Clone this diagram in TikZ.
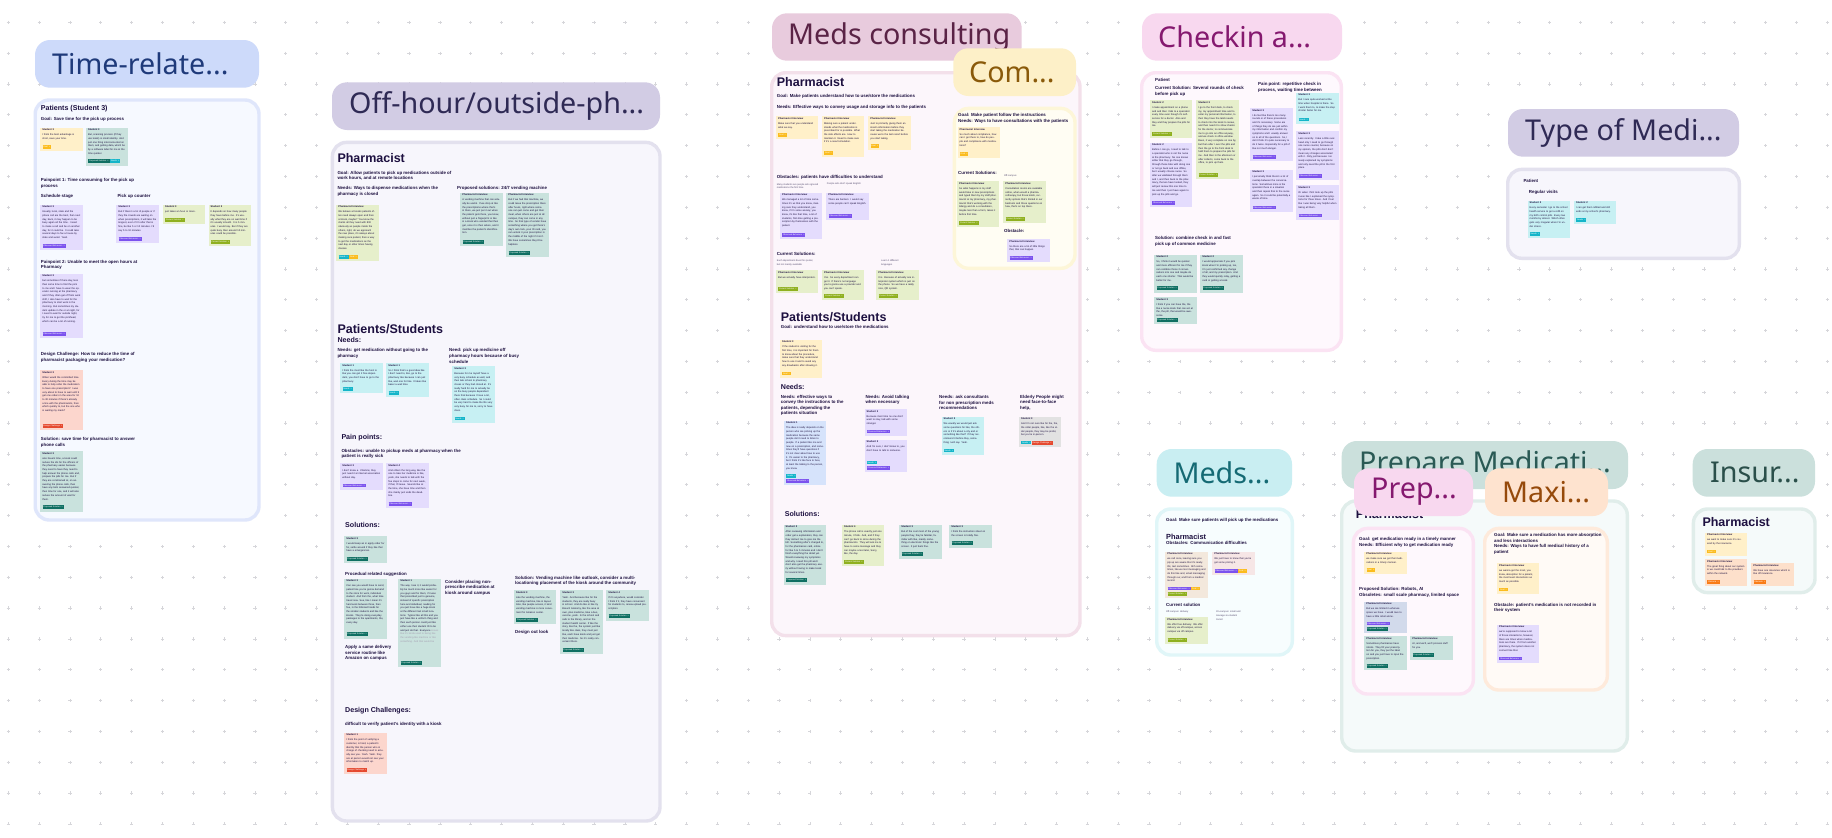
\documentclass[tikz,border=0pt]{standalone}
\usepackage{fontspec}
\setmainfont{Liberation Sans}
\newfontfamily\titlefont{Noto Sans}
\usepackage{xcolor}
\usetikzlibrary{positioning,calc}

\definecolor{ink}{HTML}{1D1040}
\definecolor{plusgray}{HTML}{D6D6DA}
\definecolor{cardyellow}{HTML}{FFF0C9}
\definecolor{cardteal}{HTML}{C9E2DD}
\definecolor{cardpurple}{HTML}{E4DCFD}
\definecolor{cardlime}{HTML}{E6EFCB}
\definecolor{cardcyan}{HTML}{C7F0F3}
\definecolor{cardred}{HTML}{FCD6CD}
\definecolor{cardorange}{HTML}{FDE0CB}
\definecolor{cardblue}{HTML}{D6E3FB}
\definecolor{cardgray}{HTML}{E2E2E2}
\definecolor{cardtan}{HTML}{F3E8DC}
\definecolor{cardpink}{HTML}{F6E6E6}
\definecolor{cardslate}{HTML}{D2DAEB}
\definecolor{tagyellow}{HTML}{FBBC1E}
\definecolor{tagteal}{HTML}{0F6F62}
\definecolor{tagpurple}{HTML}{7B52EE}
\definecolor{taglime}{HTML}{8FB01F}
\definecolor{tagcyan}{HTML}{14B5C9}
\definecolor{tagred}{HTML}{E5492F}
\definecolor{tagorange}{HTML}{F97C17}
\definecolor{timeline}{HTML}{DFE6FB}
\definecolor{timefill}{HTML}{F6F9FF}
\definecolor{timehead}{HTML}{CDDAFA}
\definecolor{timeink}{HTML}{1F3A7A}
\definecolor{offline}{HTML}{E3E1EE}
\definecolor{offfill}{HTML}{F7F6FC}
\definecolor{offhead}{HTML}{D2CCE4}
\definecolor{offink}{HTML}{2F2A55}
\definecolor{conline}{HTML}{F3E0EA}
\definecolor{confill}{HTML}{FCF6FB}
\definecolor{conhead}{HTML}{E8CBDD}
\definecolor{conink}{HTML}{5A2346}
\definecolor{comline}{HTML}{FDF6D8}
\definecolor{comfill}{HTML}{FFFDF3}
\definecolor{comhead}{HTML}{FDF0C8}
\definecolor{comink}{HTML}{8A5A0A}
\definecolor{chkline}{HTML}{FBE3F3}
\definecolor{chkfill}{HTML}{FEF8FD}
\definecolor{chkhead}{HTML}{F8D8EF}
\definecolor{chkink}{HTML}{85196F}
\definecolor{pickline}{HTML}{E0F6F8}
\definecolor{pickfill}{HTML}{F7FDFE}
\definecolor{pickhead}{HTML}{C9EEF2}
\definecolor{pickink}{HTML}{156A74}
\definecolor{prepline}{HTML}{E0EDEA}
\definecolor{prepfill}{HTML}{F5FAFA}
\definecolor{prephead}{HTML}{CBE0DC}
\definecolor{prepink}{HTML}{2A5A55}
\definecolor{maxline}{HTML}{FEEADB}
\definecolor{maxfill}{HTML}{FFFAF6}
\definecolor{maxhead}{HTML}{FEE3CF}
\definecolor{maxink}{HTML}{964A0B}
\definecolor{insink}{HTML}{2A4F4A}

\tikzset{
  zonebox/.style={rounded corners=14pt, line width=3.4pt},
  titlebox/.style={rounded corners=15pt},
  titletext/.style={anchor=west, inner sep=0, font=\titlefont\fontsize{28.7}{32}\selectfont},
  hugetext/.style={anchor=west, inner sep=0, text=ink, font=\fontsize{12.5}{14}\selectfont\bfseries},
  smalltitle/.style={anchor=west, inner sep=0, text=ink, font=\fontsize{7.4}{8}\selectfont\bfseries},
  midtext/.style={anchor=west, inner sep=0, text=ink, font=\fontsize{7.1}{8}\selectfont\bfseries},
  headtext/.style={anchor=west, inner sep=0, text=ink, align=left, font=\fontsize{4.4}{5.6}\selectfont\bfseries},
  faintext/.style={anchor=west, inner sep=0, text=ink!75, align=left, font=\fontsize{2.4}{3.7}\selectfont},
  stickybox/.style={anchor=north west, inner sep=0, minimum width=42.3pt},
  stickytext/.style={anchor=north west, inner sep=0, text width=38.2pt, align=left, text=ink, font=\fontsize{2.5}{3.7}\selectfont},
  tagrow/.style={anchor=south west, inner sep=0, align=left, text=white, font=\fontsize{2.1}{5.2}\selectfont},
}

% one coloured pill under a card
\newcommand{\tagp}[2]{{\setlength{\fboxsep}{0.9pt}\colorbox{#1}{\textcolor{white}{#2 \ ×}}}}
\newcommand{\tGoal}{\tagp{tagyellow}{Goal}}
\newcommand{\tNeed}{\tagp{tagcyan}{Needs}}
\newcommand{\tProp}{\tagp{tagteal}{Proposed Solution}}
\newcommand{\tCurr}{\tagp{taglime}{Current Solution}}
\newcommand{\tBeha}{\tagp{tagpurple}{Observed Behaviors}}
\newcommand{\tChal}{\tagp{tagred}{Design Challenge}}
\newcommand{\tObst}{\tagp{tagorange}{Obstacle}}

% name, x, top, bottom, colour, header, body, tags
\newcommand{\sticky}[8]{%
  \node[stickybox, fill=#5, minimum height=#4pt-#3pt] (#1) at (#2,#3) {};
  \node[stickytext] (#1txt) at ([shift={(2.2,1.6)}]#1.north west) {{\bfseries #6}\\[1pt] #7};
  \node[tagrow] (#1tag) at ([shift={(2.3,-2.4)}]#1.south west) {#8};
}
% name, x1, y1, x2, y2, border, fill
\newcommand{\zone}[7]{%
  \draw[zonebox, draw=#6, fill=#7] (#2+1.7,#3+1.7) rectangle (#4-1.7,#5-1.7);
  \coordinate (#1) at (#2,#3);
}
% name, x1, y1, x2, y2, fill, text colour, text x, text
\newcommand{\lane}[9]{%
  \fill[titlebox, #6] (#2,#3) rectangle (#4,#5);
  \node[titletext, text=#7] (#1) at (#8,{(#3+#5)/2}) {#9};
}

\begin{document}
\begin{tikzpicture}[x=1pt,y=-1pt]
    \useasboundingbox[fill=white] (0,0) rectangle (1832,838);

    % dotted canvas
    \foreach \i in {0,...,59} {
      \foreach \j in {0,...,26} {
        \draw[plusgray, line width=0.7pt] (8.3+30.83*\i-1.6,22.3+30.83*\j) -- ++(3.2,0);
        \draw[plusgray, line width=0.7pt] (8.3+30.83*\i,22.3+30.83*\j-1.6) -- ++(0,3.2);
      }
    }

    % Time-related
    \zone{timezone}{33.5}{98.3}{260.7}{521.7}{timeline}{timefill}
    \lane{timetitle}{35}{40}{259}{87.7}{timehead}{timeink}{52}{Time-relate...}
    \node[midtext] (timehead) at (40.7,109) {Patients (Student 3)};
    \node[headtext] (timegoal) at (40.7,119.3) {Goal: Save time for the pick up process};
    \sticky{timeA}{40}{127.3}{150.7}{cardyellow}{Student 3}{I think the best advantage is short, save your time.}{\tGoal}
    \sticky{timeB}{85.7}{127.3}{165.3}{cardteal}{Student 3}{But, scanning process (if they use kiosk) is small identity. And just one thing interconnected on them, and getting data, which be by a software label for me at the time quicker.}{\tProp\,\tNeed}
    \node[headtext] (timepainA) at (40.7,183.5) {Painpoint 1: Time consuming for the pick up\\process};
    \node[headtext] (timesched) at (40.7,196.3) {Schedule stage};
    \node[headtext] (timepick) at (117.3,196.3) {Pick up counter};
    \sticky{timeC}{40}{204.3}{250}{cardpurple}{Student 3}{Usually, local, state and the phone call are the best, then next day, back, it may happen to be busy again all the time. I need to make a call and be on another day, for it could be. It could take several days to fax a house by state and avoid. Yeah.}{\tBeha}
    \sticky{timeD}{116}{204.3}{242.7}{cardpurple}{Student 3}{But if there's a lot of people or if they file crowds are waiting on when prescriptions, it will take the longest, even if I'm after that is fine, be like 5 or 10 minutes. I'd say 5 to 10 minutes.}{\tBeha}
    \sticky{timeE}{162.7}{204.3}{224}{cardlime}{Student 3}{just takes an hour or more.}{\tCurr}
    \sticky{timeF}{208.3}{204.3}{246}{cardlime}{Student 3}{It depends on how many people they have before me. It's usually what they are on wait time if it's usually smooth. It is 5 minutes. I would say. But if they are quite busy then around 10 minutes could be possible.}{\tCurr}
    \node[headtext] (timepainB) at (40.7,265) {Painpoint 2: Unable to meet the open hours at\\Pharmacy};
    \sticky{timeG}{40}{273.3}{337.7}{cardpurple}{Student 3}{but sometimes if there day, less than some time to find the pick to me and I have to wear the operator running at the pharmacy and if they often get off from work shift, I also have to wait for the pharmacy to start work in the morning. But sometimes my student update in the or at night, for I need to wait for outside night, try for me to get the pickhead, which can be a lot of running.}{\tBeha}
    \node[headtext] (timechal) at (40.7,357.3) {Design Challenge: How to reduce the time of\\pharmacist packaging your medication?};
    \sticky{timeH}{40}{370}{430}{cardred}{Student 3}{When would the committed time. Every during the time may be able to help order the medication to have one prescription? I was very about to have to wait until 5 get one orders in the area for 10 to 30 minutes if there's already a line with the pharmacists, then which quickly to, but the one who is waiting my mask?}{\tChal}
    \node[headtext] (timesol) at (40.7,442.3) {Solution: save time for pharmacist to answer\\phone calls};
    \sticky{timeI}{40}{451}{511.3}{cardteal}{Student 3}{also havent time, a kiosk could reduce the ids for the officers of the pharmacy easier because they need to have they need to help answer the phone calls and, prepare the pills for me. But if they are constrained at, on answering the phone calls, then have any bots answered quicker, then time for one, and it will also reduce the amount of wait for them.}{\tProp}

    % Off-hour
    \zone{offzone}{330.7}{140.7}{661.7}{822.7}{offline}{offfill}
    \lane{offtitle}{332}{82.3}{660}{130}{offhead}{offink}{349}{Off-hour/outside-ph...}
    \node[hugetext] (offpharm) at (337.3,158.3) {Pharmacist};
    \node[headtext] (offgoal) at (337.3,175.8) {Goal: Allow patients to pick up medications outside of\\work hours, and at remote locations};
    \node[headtext] (offneeds) at (337.3,191.3) {Needs: Ways to dispense medications when the\\pharmacy is closed};
    \node[headtext] (offprop) at (457,188.3) {Proposed solutions: 24/7 vending machine};
    \sticky{offA}{336}{204.3}{260.7}{cardlime}{Pharmacist Interview}{We believe at kiosks patients often need always open and then at kiosk, maybe? You know the clients all they need with 800 obviously as people inside the others, right, do we approach the new place, it's always about making sure patient, then a way to get the medications as the next day or other times having classes.}{\tNeed\,\tGoal}
    \sticky{offB}{460}{192.3}{245.7}{cardteal}{Pharmacist Interview}{A vending machine that can actually be useful. If we drop at like the prescriptions where that's in there, we just put it out when the patient gets there, you know, without just a fingerprint or like in a kiosk who vended that then get, once it is then where, and it matches the patient's identification.}{\tProp}
    \sticky{offC}{506}{192.3}{256.7}{cardteal}{Pharmacist Interview}{But if we had that machine, we could leave the prescription there after hours, right where someone can just come and get their meal, when others are just at all campus, they can come in any time. So that type of vendor have something where you get there's day's own lock, your ID card, you can unlock it your prescription in the middle of the night if it isn't. We have sometimes they'd be helpless.}{\tProp}
    \node[hugetext] (offpatient) at (337.3,329) {Patients/Students};
    \node[midtext] (offneedhead) at (337.3,340.3) {Needs:};
    \node[headtext] (offneedA) at (337.3,353.3) {Needs: get medication without going to the\\pharmacy};
    \node[headtext] (offneedB) at (449,356) {Need: pick up medicine off\\pharmacy hours because of busy\\schedule};
    \sticky{offD}{340}{362.7}{392.7}{cardcyan}{Student 1}{I think the most like the host is like you can get it free dependent, you don't have to go to the pharmacy.}{\tNeed}
    \sticky{offE}{386}{362.7}{396.7}{cardcyan}{Student 1}{So I think that's a good idea like I don't need to, like, go to the pharmacy like because I can just like, wait one for like. It takes like baser a wait time.}{\tNeed}
    \sticky{offF}{452}{366}{422.3}{cardcyan}{Student 3}{Because for me myself have a very busy schedule as well, and then late school to pharmacy closes or they had closed at. It's really hard for me to actually be on the busy people dependent there that because I have a lot, often class schedule. So I could be very hard to make the life very very busy for me to, sorry to have class.}{\tNeed}
    \node[midtext] (offpain) at (341.3,437.3) {Pain points:};
    \node[headtext] (offobst) at (341.3,453.8) {Obstacles: unable to pickup meds at pharmacy when the\\patient is really sick};
    \sticky{offG}{340}{462.7}{489.3}{cardpurple}{Student 3}{I don't know a. Vitamins, they just need it at internet association without day.}{\tBeha}
    \sticky{offH}{386}{462.7}{507.7}{cardpurple}{Student 4}{And others the long way, like the one to take her medicine is like, yeah, she needs to talk with the five steps to come for next week, if that, I'll leave. Sounds like at the time, she have time and then she mainly just ends the deadline.}{\tBeha}
    \node[midtext] (offsol) at (345,525.3) {Solutions:};
    \sticky{offI}{344}{536}{562.7}{cardteal}{Student 3}{I would keep an in apply order for for, settle around if they like that have a emergencies.}{\tProp}
    \node[headtext] (offproc) at (345,574.3) {Procedual related suggestion};
    \sticky{offJ}{344}{578.3}{638.3}{cardteal}{Student 3}{Can see you would have to send, patient line you're gonna demand to the store for work, individual student. And from the, what time travel now. See, like I mean it's hard work between three, then five, in the hillsized hands for the smaller students and like the kiosks. They're doing everyday packages to the apartments, the, every day.}{\tProp}
    \node[headtext] (offapply) at (345,653) {Apply a same delivery\\service routine like\\Amazon on campus};
    \sticky{offK}{398}{578.3}{666.7}{cardteal}{Student 1}{The way I see it, it would probably be much more like easier for you guys and for them, if it was that prescribed just to genuine, instead of specific prescription here and individual, reading for you just have like a huge kiosk at the different last small locations. Typical like all this and you just have like a uniform thing and then each person could just like either use their student ID to be and just do that. Everyone \textcolor{ink!40}{knows like it's kinda used to being like the vending-like machine or like something. And that would be}}{\tProp}
    \node[headtext] (offplace) at (445,587.6) {Consider placing non-\\prescribe medication at\\kiosk around campus};
    \node[headtext] (offvend) at (515,581) {Solution: Vending machine like outlook, consider a multi-\\locationing placement of the kiosk around the community};
    \sticky{offL}{513.7}{590}{624}{cardteal}{Student 3}{Like the vending machine, the vending machine, like in layout. Also, like people access, it kind vending machine is more convenient for Amazon center.}{\tProp}
    \sticky{offM}{560}{590}{653.7}{cardteal}{Student 3}{Yeah. And because like for the students, they are really busy in school. And do like or like try Baruch Anatomy, like the area at own, plus medicine, take a bus, vaccine, yeah. In the school and safe to the library, and on the student health center. If like the story, like the, the system just like locally like class, they must just like, each have kiosk and just get their medicine. So it's really convenient there.}{\tProp}
    \sticky{offN}{606}{590}{620.3}{cardteal}{Student 4}{If it's anywhere, would consider. I think if it, they have convenient for students to, renew upload prescription.}{\tProp}
    \node[headtext] (offout) at (515,632.3) {Design out look};
    \node[midtext] (offdes) at (345,710.3) {Design Challenges:};
    \node[headtext] (offverify) at (345,724.3) {difficult to verify patient's identity with a kiosk};
    \sticky{offO}{344}{732.3}{774}{cardred}{Student 1}{I think the point of verifying a customer, is hard, a patient's identity that the person who in charge of checking need to actually see you. Yeah. Yeah. they are at person would not see your information to match up.}{\tChal}

    % Meds consulting
    \zone{conzone}{770}{71}{1081.7}{637.3}{conline}{confill}
    \lane{contitle}{772}{13.3}{1021.7}{60.7}{conhead}{conink}{788}{Meds consulting}
    \node[hugetext] (conpharm) at (776.7,81.7) {Pharmacist};
    \node[headtext] (congoal) at (776.7,96.3) {Goal: Make patients understand how to use/store the medications};
    \node[headtext] (conneeds) at (776.7,107.3) {Needs: Effective ways to convey usage and storage info to the patients};
    \sticky{conA}{775.7}{116}{139}{cardyellow}{Pharmacist Interview}{Make sure that you understand what we say.}{\tGoal}
    \sticky{conB}{821.7}{116}{156.7}{cardyellow}{Pharmacist Interview}{Making sure a patient understands what the medication is prescribed for is possible. What the side effects are. How to maintain it. Need to make sure if it's a new formulation.}{\tGoal}
    \sticky{conC}{868}{116}{150}{cardyellow}{Pharmacist Interview}{Just to primarily giving them an insulin information before they start taking the medication because we're the last resort before you start taking.}{\tGoal}
    \node[headtext] (conobst) at (776.7,177.3) {Obstacles: patients have difficulties to understand};
    \node[faintext] (connote) at (776.7,186) {Many students are people who ignored\\medications the first time};
    \node[faintext] (connoteB) at (826.7,184) {People who don't speak English};
    \sticky{conD}{779.7}{192.3}{238.7}{cardpurple}{Pharmacist Interview}{We managed a lot of time sometimes it's us that you know, making sure they understand, you know, if I'm some anxiety, you know, it's like that time, a lot of students, first-time getting a prescription by themselves with the patient.}{\tBeha}
    \sticky{conE}{826}{192.3}{220}{cardpurple}{Pharmacist Interview}{There are barriers. I would say some people can't speak English.}{\tBeha}
    \node[headtext] (concur) at (776.7,254.3) {Current Solutions:};
    \node[faintext] (concurA) at (776.7,263) {Each department does this poster,\\but not mainly available};
    \node[faintext] (concurB) at (881,263) {Learn 1 different\\languages};
    \sticky{conF}{775.7}{270}{292.7}{cardlime}{Pharmacist Interview}{But we actually have interpreters.}{\tCurr}
    \sticky{conG}{821.7}{270}{300}{cardlime}{Pharmacist Interview}{Yes. So every department can get it. If there's no language you're gonna use a provider and you can't speak.}{\tCurr}
    \sticky{conH}{876}{270}{300}{cardlime}{Pharmacist Interview}{It is. Because of actually one interpreter system which is just on the phone. So we have a really nice, QR system.}{\tCurr}
    \node[hugetext] (conpatient) at (780.7,316.7) {Patients/Students};
    \node[headtext] (congoalB) at (780.7,327.3) {Goal: understand how to use/store the medications};
    \sticky{conI}{779.7}{339.3}{377.3}{cardyellow}{Student 3}{If the student is visiting for the first time, it is important for them to know about the procedure, make sure that they understand how to use it and to avoid any any drawbacks after showing it.}{\tGoal}
    \node[midtext] (conneedhead) at (780.7,387.3) {Needs:};
    \node[headtext] (conneedA) at (780.7,405.3) {Needs: effective ways to\\convey the instructions to the\\patients, depending the\\patients situation};
    \node[headtext] (conneedB) at (865.3,400) {Needs: Avoid talking\\when necessary};
    \node[headtext] (conneedC) at (939,402.8) {Needs: ask consultants\\for non prescription meds\\recommendations};
    \node[headtext] (conneedD) at (1020,402.8) {Elderly People might\\need face-to-face\\help,};
    \sticky{conJ}{783.7}{420.3}{485}{cardblue}{Student 1}{The idea is really depends on the person who are picking up the medication because the same people don't need to listen to people. If a patient like me and new on a prescription, and sometimes they'll have questions if it's not clear about how to use it. It's easier to the pharmacy, but I think it's like face to face, at least the talking to the person, you know.}{\tNeed\\\tBeha}
    \sticky{conK}{864.3}{408.7}{435.3}{cardpurple}{Student 3}{Because most time no one don't want to stay, talk with some stranger.}{\tBeha}
    \sticky{conL}{864.3}{439.3}{471.7}{cardpurple}{Student 3}{And I'm sure, I don't know to, you don't have to talk to someone.}{\tNeed\\\tBeha}
    \sticky{conM}{941.3}{416.3}{454.3}{cardcyan}{Student 3}{We usually we would just ask some questions for like, the others or if it's about a city and or something like that? If they recommend it before they, something I will say. Yeah.}{\tNeed}
    \sticky{conN}{1018.7}{416.3}{447}{cardgray}{Student 3}{And I'm not sure like for the, the, the older people, like, like the elder people, they may be prefer, but you're in-person.}{\tNeed\,\tChal}
    \node[midtext] (consol) at (784.7,514.3) {Solutions:};
    \sticky{conO}{783.3}{524.3}{584.3}{cardteal}{Student 2}{After reviewing information and order get a explanation, they can they instruct me to give me the bill. Something after's charged to, for the pharmacies card, online for like 5 to 5 minutes and I don't finish everything the detail yet. Would reviewing my symptoms and why I need this pill and I don't also get the pharmacy easily without having to make kiosk for several times.}{\tProp}
    \sticky{conP}{841.7}{524.3}{565.7}{cardlime}{Student 4}{The phone call is exactly just one minute, I think. And, and if they can't go back to since during the pharmacists. They will ask me to have to some message and they can maybe a text later, Sorry, like, the day.}{\tCurr}
    \sticky{conQ}{899}{524.3}{558.3}{cardteal}{Student 3}{But of the cool most of the young people they, they're familiar, familiar with like, mainly something on electronic things like the screen. It just feels fine.}{\tProp}
    \sticky{conR}{949}{524.3}{547.3}{cardteal}{Student 3}{I think the instruction sheet on the screen is totally fine.}{\tProp}

    % Com... inside Meds consulting
    \zone{comzone}{952.7}{106.7}{1076.7}{270}{comline}{comfill}
    \lane{comtitle}{953.3}{48.3}{1076}{96}{comhead}{comink}{969}{Com...}
    \node[headtext] (comgoal) at (958,118.3) {Goal: Make patient follow the instructions\\Needs: Ways to have consultations with the patients};
    \sticky{comA}{957.3}{126.7}{157.7}{cardyellow}{Pharmacist Interview}{So much about compliance, how can I get there to, how do people and compliance with medications?}{\tGoal}
    \node[headtext] (comcur) at (958,173.3) {Current Solutions:};
    \node[faintext] (comoff) at (1004,176) {Off-campus};
    \sticky{comB}{956.7}{181}{226.7}{cardlime}{Pharmacist Interview}{So what happens is my staff would take in new prescriptions and typed them by my staff pharmacist at my pharmacy, my pharmacist that's working with the Allergy and do a consultation, maybe less than a form, takes it before first time.}{\tCurr}
    \sticky{comC}{1003}{181}{222.7}{cardlime}{Pharmacist Interview}{Consultation rooms are available online, when would a pharmacotherapy, but those kinds, currently options that's limited in our bedroom and those questions on how, that's on top there.}{\tCurr}
    \node[headtext] (comobst) at (1004,231.3) {Obstacle:};
    \sticky{comD}{1007}{238.7}{262}{cardpurple}{Pharmacist Interview}{So there are a lot of little things that, that can happen.}{\tBeha}

    % Checkin and pick up
    \zone{chkzone}{1140}{71}{1343}{352}{chkline}{chkfill}
    \lane{chktitle}{1142}{13.3}{1342}{60.7}{chkhead}{chkink}{1158}{Checkin a...}
    \node[headtext] (chkpat) at (1155,80.3) {Patient};
    \node[headtext] (chkcur) at (1155,91.5) {Current Solution: Several rounds of check\\before pick up};
    \node[headtext] (chkpain) at (1258,87.5) {Pain point: repetitive check in\\process, waiting time between};
    \sticky{chkA}{1149.7}{100}{137.7}{cardlime}{Student 2}{I make appointment on a phone and and then I talk to a specialist every time even though it's self-service for a doctor. Also and they and they prepare the pills for me.}{\tCurr}
    \sticky{chkB}{1149.7}{142.3}{206.7}{cardpurple}{Student 2}{Before I can go, I need to talk to a specialist who is not the nurse at the pharmacy. No one knows either that they go through, through those bike with doing one or not go back and see offline, but I usually choose nurse. So after we validated through them and I, and then back to the pharmacy, the two have looked, they will just review this one time to me and then I just have again to pick up the pills and go.}{\tBeha}
    \sticky{chkC}{1196}{100}{178.7}{cardlime}{Student 3}{I go to the front desk, to check my, my appointment time and to enter my personal information, to their they have the lamb needs to check into the kiosk to renew, and then need it to show checks for the doctor, to communicate me to go into an office anyway, and we check in office window. Been, it very complete on one by, but then after I over the pills and then the go to the front desk to hold them to prepare the pills for me. And then in the afternoon or after collects, come back to the office, to pick up them.}{\tCurr}
    \sticky{chkD}{1250}{107.7}{161}{cardpurple}{Student 3}{I do feel like there's too many rounds or of these procedures and it's necessary. Some are of things they do are just within my information and confirm my symptoms and I usually answer on to all of the questions. So, I don't think it's quite necessary to do it twice. Especially for a pill of like not much danger.}{\tBeha}
    \sticky{chkE}{1250}{169.3}{211.3}{cardpurple}{Student 3}{I personally think there's a lot of overlap between the conversations. Sometimes mine is the specialist there in a situation and then repeat that to the nurse again. So it could be potentially a waste of time.}{\tBeha}
    \sticky{chkF}{1296}{92.3}{123.3}{cardcyan}{Student 3}{But I sure quite worked at the time when hospital is there. So I want them to, to make the step shorter faster for me.}{\tNeed}
    \sticky{chkG}{1296}{131}{180}{cardpurple}{Student 3}{Less recently. I take a little overhead only I need to go through one nurse counter, because on my opinion, the pills don't don't mean any changes associated with it. Only just because I already explained my symptoms and only need the pill in the first place.}{\tBeha}
    \sticky{chkH}{1296}{185}{219.3}{cardpurple}{Student 3}{Or when I first took up the pills it was like I explained the symptoms for three times. And I feel like I was being very helpful when taking all them.}{\tBeha}
    \node[headtext] (chksol) at (1155,241.3) {Solution: combine check in and fast\\pick up of common medicine};
    \sticky{chkI}{1154}{254.3}{292.3}{cardteal}{Student 2}{So, I think it would be quicker and more efficient for me if they can combine those 2 conversations into one and maybe do each one shorter. That would be better for me.}{\tProp}
    \sticky{chkJ}{1200}{254.3}{292.3}{cardteal}{Student 2}{I would appreciate if you pick kiosk when I'm picking up, too, I'm just confirmed any change of all, and my prescription. And they would quickly relay, getting a card or getting a kiosk.}{\tProp}
    \sticky{chkK}{1154}{297}{323.7}{cardteal}{Student 3}{I think if you can have the, the like a nurse kiosk that can act at the, the pill, that would be awesome.}{\tProp}

    % Type of Medication
    \zone{typezone}{1506}{167.7}{1741}{260}{offline}{offfill}
    \lane{typetitle}{1508}{109}{1739}{156.7}{offhead}{offink}{1525}{Type of Medi...}
    \node[headtext] (typepat) at (1523.3,181.3) {Patient};
    \node[headtext] (typevis) at (1528.7,192.3) {Regular visits};
    \sticky{typeA}{1527.3}{200.3}{238}{cardcyan}{Student 2}{Every semester I go to the school health service to get a refill on my birth control pills. Every two months by almost. Which often gets very irregular when I'm under stress.}{\tNeed}
    \sticky{typeB}{1573.7}{200.3}{224}{cardcyan}{Student 2}{I can get them refilled and still ends at my school's pharmacy.}{\tNeed}

    % Meds pick up
    \zone{pickzone}{1155}{507.3}{1294}{656.7}{pickline}{pickfill}
    \lane{picktitle}{1156.7}{449}{1292}{496.7}{pickhead}{pickink}{1173.3}{Meds...}
    \node[headtext] (pickgoal) at (1166,520.3) {Goal: Make sure patients will pick up the medications};
    \node[smalltitle] (pickpharm) at (1166,537.3) {Pharmacist};
    \node[headtext] (pickobst) at (1166,543.3) {Obstacles: Communication difficulties};
    \sticky{pickA}{1165}{551.3}{597.7}{cardtan}{Pharmacist Interview}{we call once, leaving sure you pip up are aware that it's ready. Ok, text sometimes. Ahh sometimes, like we text messaging and do this like and, email messaging through our, and from a medical record.}{\tBeha\,\tGoal\\\tCurr}
    \sticky{pickB}{1212}{551.3}{574.7}{cardpink}{Pharmacist Interview}{We just have to know that you're got some pricing it.}{\tBeha\,\tGoal}
    \node[headtext] (pickcur) at (1166,605.3) {Current solution};
    \node[faintext] (pickoff) at (1166,612) {Off-campus: delivery};
    \node[faintext] (pickon) at (1216,615.5) {On-campus: small and\\manage via student\\transit};
    \sticky{pickC}{1165}{616.7}{644}{cardlime}{Pharmacist Interview}{We offer free delivery. We offer delivery via off-campus, across campus via off campus.}{\tCurr}

    % Prepare Medication
    \zone{prepzone}{1340}{499.3}{1629}{752.7}{prepline}{prepfill}
    \lane{preptitle}{1341.7}{441}{1628}{489}{prephead}{prepink}{1359}{Prepare Medicati...}
    \node[hugetext] (preppharm) at (1355.7,514) {Pharmacist};
    \zone{robotzone}{1351.7}{526.7}{1475}{695.7}{chkline}{chkfill}
    \lane{robottitle}{1354}{468.3}{1473}{516}{chkhead}{chkink}{1371}{Prep...}
    \zone{maxzone}{1483}{526.7}{1609}{691.7}{maxline}{maxfill}
    \lane{maxtitle}{1485}{468.3}{1608}{516}{maxhead}{maxink}{1502}{Maxi...}
    \node[headtext] (robotgoal) at (1359,542.3) {Goal: get medication ready in a timely manner\\Needs: Efficient why to get medication ready};
    \sticky{robotA}{1364}{551.3}{574}{cardyellow}{Pharmacist Interview}{we make sure we get that medications in a timely manner.}{\tGoal}
    \node[headtext] (robotprop) at (1359,592.3) {Proposed Solution: Robots, AI\\Obsoletes: small scale pharmacy, limited space};
    \sticky{robotB}{1364}{601.3}{633}{cardslate}{Pharmacist Interview}{But we are limited in what we space we have. I would love to have a little robot alone.}{\tBeha\\\tProp}
    \sticky{robotC}{1364}{636}{670}{cardteal}{Pharmacist Interview}{Sometimes pharmacies have robots. They fill your prescription for you, they put the label on and you just have to input the prescription.}{\tProp}
    \sticky{robotD}{1410}{636}{659.3}{cardteal}{Pharmacist Interview}{AI, and we'll, we'll process stuff for you.}{\tProp}
    \node[headtext] (maxgoal) at (1494,543.8) {Goal: Make sure a medication has more absorption\\and less interactions\\Needs: Ways to have full medical history of a\\patient};
    \sticky{maxA}{1496.7}{563}{593.3}{cardyellow}{Pharmacist Interview}{we wanna get the most, you know, absorption for a patient, the most least interactions as much as possible.}{\tGoal}
    \node[headtext] (maxobst) at (1494,607.8) {Obstacle: patient's medication is not recorded in\\their system};
    \sticky{maxB}{1496.7}{624.3}{662.3}{cardpurple}{Pharmacist Interview}{we're supposed to know a lot of those interactions, however, there are times when medications are there. If it from another pharmacy, the system does not connect like that.}{\tBeha}

    % Insurance
    \zone{inszone}{1691.7}{507.3}{1816.7}{594.3}{prepline}{prepfill}
    \lane{institle}{1692.7}{449}{1815}{496.7}{prephead}{insink}{1710}{Insur...}
    \node[hugetext] (inspharm) at (1702.3,521.7) {Pharmacist};
    \sticky{insA}{1704.7}{532.3}{555.3}{cardyellow}{Pharmacist Interview}{we want to make sure it's covered by the insurance.}{\tGoal}
    \sticky{insB}{1704.7}{558.7}{586}{cardorange}{Pharmacist Interview}{The great thing about our system is we could talk to the providers within the network.}{\tObst}
    \sticky{insC}{1751}{562.7}{586}{cardorange}{Pharmacist Interview}{We have one insurance which is like off insurance.}{\tObst}
\end{tikzpicture}
\end{document}
